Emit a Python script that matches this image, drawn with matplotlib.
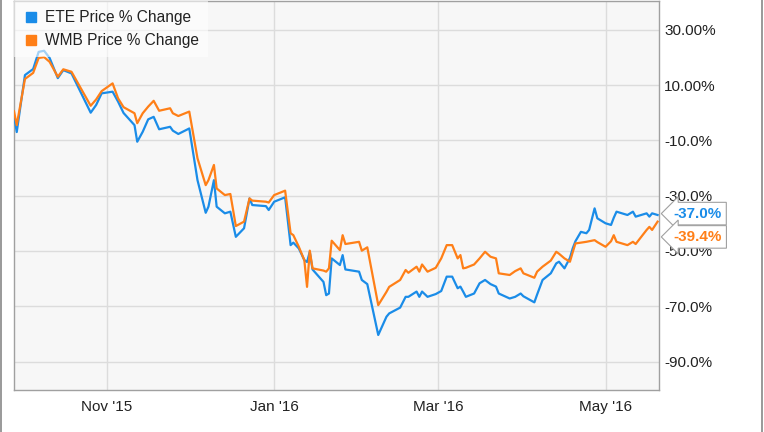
import matplotlib
matplotlib.use("Agg")
import matplotlib.pyplot as plt
import pandas as pd

# data (price % change since start)
dates = ["2015-09-28", "2015-09-29", "2015-10-02", "2015-10-05", "2015-10-07", "2015-10-09",
         "2015-10-11", "2015-10-14", "2015-10-16", "2015-10-19", "2015-10-26", "2015-10-28",
         "2015-10-30", "2015-11-03", "2015-11-05", "2015-11-07", "2015-11-11", "2015-11-12",
         "2015-11-14", "2015-11-16", "2015-11-18", "2015-11-20", "2015-11-24", "2015-11-25",
         "2015-11-27", "2015-12-01", "2015-12-04", "2015-12-07", "2015-12-08", "2015-12-10",
         "2015-12-11", "2015-12-14", "2015-12-16", "2015-12-18", "2015-12-21", "2015-12-23",
         "2015-12-24", "2015-12-29", "2015-12-30", "2016-01-01", "2016-01-05", "2016-01-07",
         "2016-01-08", "2016-01-10", "2016-01-12", "2016-01-13", "2016-01-14", "2016-01-15",
         "2016-01-19", "2016-01-20", "2016-01-21", "2016-01-22", "2016-01-25", "2016-01-26",
         "2016-01-27", "2016-02-01", "2016-02-02", "2016-02-04", "2016-02-08", "2016-02-11",
         "2016-02-12", "2016-02-16", "2016-02-18", "2016-02-19", "2016-02-22", "2016-02-23",
         "2016-02-24", "2016-02-26", "2016-02-29", "2016-03-02", "2016-03-04", "2016-03-06",
         "2016-03-08", "2016-03-09", "2016-03-10", "2016-03-11", "2016-03-14", "2016-03-16",
         "2016-03-18", "2016-03-20", "2016-03-22", "2016-03-23", "2016-03-27", "2016-03-29",
         "2016-03-31", "2016-04-01", "2016-04-05", "2016-04-06", "2016-04-08", "2016-04-11",
         "2016-04-13", "2016-04-14", "2016-04-16", "2016-04-18", "2016-04-19", "2016-04-20",
         "2016-04-22", "2016-04-24", "2016-04-25", "2016-04-27", "2016-04-28", "2016-05-01",
         "2016-05-03", "2016-05-04", "2016-05-05", "2016-05-09", "2016-05-11", "2016-05-12",
         "2016-05-16", "2016-05-17", "2016-05-18", "2016-05-20"]

ete = [-1.0, -7.0, 13.6, 15.8, 22.0, 22.4,
       19.8, 12.5, 15.4, 14.2, 0.0, 2.8,
       7.0, 7.6, 4.0, -0.1, -4.5, -10.5,
       -6.9, -2.4, -1.5, -6.0, -5.1, -6.5,
       -7.7, -5.7, -24.4, -36.2, -34.0, -24.4,
       -34.0, -36.4, -35.8, -44.9, -41.8, -31.0,
       -33.4, -33.8, -35.2, -32.2, -30.6, -47.9,
       -47.0, -49.1, -53.3, -54.0, -50.3, -56.7,
       -61.2, -66.0, -65.4, -52.7, -55.1, -51.5,
       -56.7, -57.5, -60.5, -62.0, -80.4, -73.8,
       -72.6, -70.5, -66.6, -66.6, -64.7, -66.6,
       -64.7, -66.6, -65.6, -64.5, -59.3, -59.3,
       -63.5, -62.9, -64.7, -66.6, -65.4, -61.7,
       -60.5, -62.0, -62.9, -65.4, -67.2, -66.6,
       -65.4, -66.4, -68.6, -65.8, -60.5, -58.1,
       -54.5, -53.9, -56.3, -52.5, -49.1, -46.5,
       -43.1, -43.6, -42.4, -34.6, -38.2, -40.0,
       -40.6, -38.0, -35.8, -37.0, -35.8, -37.6,
       -36.4, -37.6, -36.4, -37.0]

wmb = [0.5, -4.5, 12.2, 14.4, 19.8, 20.1,
       18.4, 13.0, 15.7, 14.8, 2.5, 4.8,
       7.8, 10.6, 5.2, 2.0, -0.2, -3.8,
       -0.2, 2.2, 4.3, 0.7, 1.6, -0.2,
       -1.2, 0.4, -16.5, -26.2, -24.4, -18.9,
       -27.4, -29.8, -29.4, -41.0, -39.4, -31.0,
       -31.8, -32.2, -32.5, -29.8, -28.2, -43.6,
       -44.3, -48.5, -53.3, -63.0, -49.9, -56.3,
       -57.1, -57.5, -56.3, -46.3, -49.7, -44.3,
       -47.5, -46.7, -49.9, -48.7, -69.6, -64.8,
       -63.0, -60.5, -56.9, -57.9, -55.7, -57.5,
       -54.9, -57.5, -56.1, -52.7, -47.9, -47.9,
       -52.7, -51.5, -56.3, -56.1, -54.9, -52.7,
       -50.3, -52.1, -52.7, -58.1, -58.7, -57.3,
       -56.3, -58.1, -59.7, -57.5, -55.7, -53.5,
       -50.3, -51.0, -52.7, -53.9, -50.5, -47.3,
       -47.0, -46.7, -46.5, -46.1, -46.8, -48.5,
       -46.5, -44.3, -46.7, -47.9, -46.7, -47.5,
       -42.4, -41.3, -42.4, -39.4]

series_names = ["ETE Price % Change", "WMB Price % Change"]
last_labels = ["-37.0%", "-39.4%"]
ytick_vals = [30, 10, -10, -30, -50, -70, -90]
ytick_labels = ["30.00%", "10.00%", "-10.0%", "-30.0%", "-50.0%", "-70.0%", "-90.0%"]
xtick_dates = ["2015-11-01", "2016-01-01", "2016-03-01", "2016-05-01"]
xtick_labels = ["Nov '15", "Jan '16", "Mar '16", "May '16"]

blue = "#1a8ce8"
orange = "#ff7f17"

plt.rcParams['font.family'] = ['Liberation Sans', 'DejaVu Sans']

x = pd.to_datetime(dates)

fig = plt.figure(figsize=(7.64, 4.32), dpi=100)
fig.patch.set_facecolor("white")
ax = fig.add_axes([14/764, 1 - 390/432, (658.5 - 14)/764, (390 - 1)/432])
ax.set_facecolor("#f7f7f7")

ax.plot(x, ete, color=blue, lw=1.6, zorder=3)
ax.plot(x, wmb, color=orange, lw=1.6, zorder=3)

ax.set_xlim(pd.Timestamp("2015-09-28"), pd.Timestamp("2016-05-20 08:00"))
ax.set_ylim(-100.3, 40.4)

ax.yaxis.tick_right()
ax.set_yticks(ytick_vals)
ax.set_yticklabels(ytick_labels, fontsize=11, color="#222222")
ax.set_xticks(pd.to_datetime(xtick_dates))
ax.set_xticklabels(xtick_labels, fontsize=11, color="#222222")
ax.tick_params(axis="both", length=0)
ax.tick_params(axis="y", pad=4)
ax.tick_params(axis="x", pad=7)
ax.grid(True, color="#dcdcdc", lw=1)
ax.set_axisbelow(True)
for s in ax.spines.values():
    s.set_color("#a0a0a0")
    s.set_linewidth(1)

# legend with square markers
h1 = plt.Line2D([], [], marker="s", ls="", color=blue, markersize=7)
h2 = plt.Line2D([], [], marker="s", ls="", color=orange, markersize=7)
leg = ax.legend([h1, h2], series_names, loc="upper left", fontsize=11.2,
                frameon=True, facecolor="white", edgecolor="none", framealpha=0.6,
                borderaxespad=0, handletextpad=0.4, handlelength=1.0,
                labelspacing=0.5, borderpad=0.6)
leg.get_frame().set_boxstyle("square", pad=0)
for t in leg.get_texts():
    t.set_color("#222222")

# end value labels
ax.annotate(last_labels[0], xy=(1.0, ete[-1]), xycoords=("axes fraction", "data"),
            xytext=(11, 1), textcoords="offset points", va="center", ha="left",
            fontsize=11, fontweight="bold", color=blue,
            bbox=dict(boxstyle="larrow,pad=0.28", fc="white", ec="#a0a0a0", lw=0.8))
ax.annotate(last_labels[1], xy=(1.0, wmb[-1]), xycoords=("axes fraction", "data"),
            xytext=(11, -11), textcoords="offset points", va="center", ha="left",
            fontsize=11, fontweight="bold", color=orange,
            bbox=dict(boxstyle="larrow,pad=0.28", fc="white", ec="#a0a0a0", lw=0.8))

# outer border lines
fig.add_artist(plt.Line2D([1/764, 1/764], [0, 1], color="#888888", lw=1.2))
fig.add_artist(plt.Line2D([762/764, 762/764], [0, 1], color="#888888", lw=1.2))

fig.savefig("out.png", dpi=100)
